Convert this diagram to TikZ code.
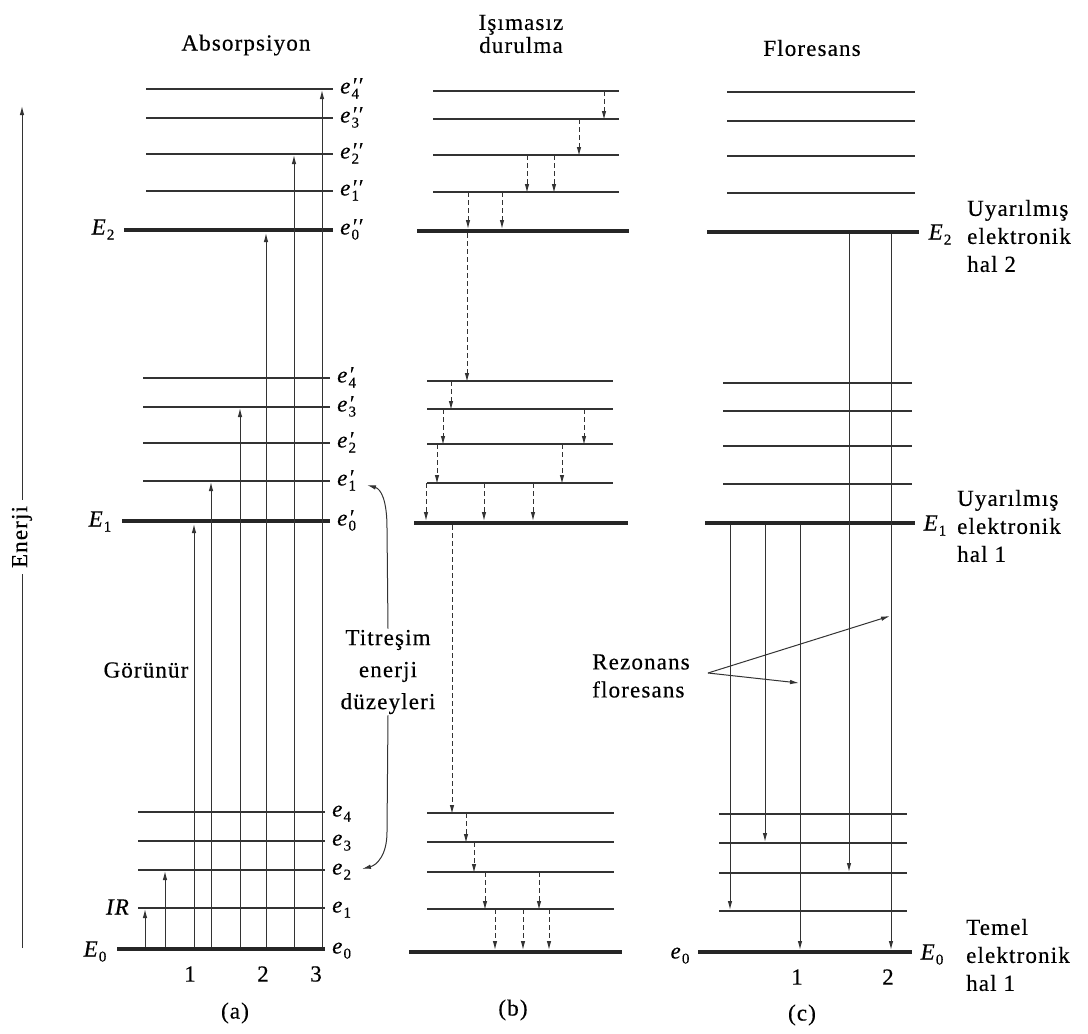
\documentclass[tikz,border=0pt]{standalone}
\usepackage{fontspec}
\setmainfont[LetterSpace=5,FakeBold=0.4]{Liberation Serif}
\usetikzlibrary{arrows.meta}
\newcommand\myfs{\fontsize{23}{28}\selectfont}
% level label: italic letter, optional primes, upright subscript
\newcommand\lvlab[3]{\textit{#1}\rlap{\smash{\raisebox{1pt}{\fontsize{22}{22}\selectfont\textit{#2}}}}\smash{\raisebox{-5pt}{\fontsize{15}{15}\selectfont #3}}}
\begin{document}
\begin{tikzpicture}[x=1pt,y=-1pt,
  lv/.style={line width=1.5pt, draw=black!80},
  gl/.style={line width=4.5pt, draw=black!85},
  ar/.style={line width=1pt, draw=black!80, -{Latex[length=9pt,width=4.5pt]}},
  da/.style={ar, dash pattern=on 5pt off 3pt},
  lab/.style={font=\myfs, inner sep=1pt},
  sl/.style={font=\myfs, inner sep=0pt, text height=11pt, text depth=4pt},
  blk/.style={font=\myfs, align=left, anchor=west, inner sep=1pt}]
\useasboundingbox (0,0) rectangle (1088,1034);

% ---------- titles ----------
\node[lab] (ta) at (246,45) {Absorpsiyon};
\node[lab, align=center, font=\fontsize{23}{23}\selectfont] (tb) at (521,34) {Işımasız\\durulma};
\node[lab] (tc) at (812,48) {Floresans};

% ---------- panel (a) levels ----------
\foreach \y/\l/\r/\p/\s [count=\i] in {89/146/333/{′′}/4,118/146/333/{′′}/3,154/146/333/{′′}/2,191/146/333/{′′}/1,
    378/143/330/{′}/4,407/143/330/{′}/3,443/143/330/{′}/2,481/143/330/{′}/1,
    812/138/325/{}/4,841/138/325/{}/3,870/138/325/{}/2,908/138/325/{}/1}{
  \draw[lv] (\l,\y) -- (\r,\y);
  \node[sl, anchor=west] (la\i) at (\r+7,\y+1) {\lvlab{e}{\p}{\s}};
}
\foreach \y/\l/\r/\p [count=\i] in {230/124/333/{′′},521/122/330/{′},949/117/325/{}}{
  \draw[gl] (\l,\y) -- (\r,\y);
  \node[sl, anchor=west] (lA\i) at (\r+7,\y+1) {\lvlab{e}{\p}{0}};
}
\node[sl] (E2a) at (103,231) {\lvlab{E}{}{2}};
\node[sl] (E1a) at (100,523) {\lvlab{E}{}{1}};
\node[sl] (E0a) at (95,953) {\lvlab{E}{}{0}};
\node[sl] (IRa) at (118,911) {\textit{IR}};

% absorption arrows
\foreach \x/\ya/\yb [count=\i] in {145/947/909,165/947/871,194/947/524,211/947/482,240/947/408,266/947/233,294/947/155,322/947/90}{
  \coordinate (as\i) at (\x,\ya);
  \coordinate (ae\i) at (\x,\yb);
  \draw[ar] (as\i) -- (ae\i);
}
\node[lab] (n1a) at (190,974) {1};
\node[lab] (n2a) at (263,974) {2};
\node[lab] (n3a) at (316,974) {3};
\node[lab] (pa) at (235,1013) {(a)};
\node[lab] (gor) at (146,670) {Görünür};

% vibrational levels label with curved arrows
\node[lab, align=center, font=\fontsize{23}{32}\selectfont] (tit) at (388,672) {Titreşim\\enerji\\düzeyleri};
\coordinate (tv1) at (367,485);
\coordinate (tv2) at (362,869);
\draw[ar] (tit.north) -- (387,528) .. controls (387,500) and (381,489) .. (tv1);
\draw[ar] (tit.south) -- (387,832) .. controls (387,855) and (377,865) .. (tv2);

% energy axis
\node[lab, rotate=90, inner sep=6pt] (en) at (22,537) {Enerji};
\coordinate (enb) at (22,948);
\coordinate (ent) at (22,106);
\draw[line width=1pt, draw=black!80] (enb) -- (en.west);
\draw[ar, line width=1pt] (en.east) -- (ent);

% ---------- panel (b) ----------
\foreach \y/\l/\r in {91/433/619,119/433/619,155/433/619,192/433/619,
    381/427/613,409/427/613,444/427/613,483/427/613,
    813/427/614,842/427/614,872/427/614,909/427/614}{
  \draw[lv] (\l,\y) -- (\r,\y);
}
\draw[gl] (417,231) -- (629,231);
\draw[gl] (414,523) -- (628,523);
\draw[gl] (409,952) -- (622,952);
\foreach \x/\ya/\yb [count=\i] in {604/91/120,579/119/156,527/155/193,554/155/193,468/192/229,502/192/229,
    467/233/382,451/381/410,443/409/445,584/409/445,437/444/484,562/444/484,
    426/483/521,484/483/521,533/483/521,452/525/814,466/813/843,474/842/873,
    485/872/910,539/872/910,495/909/950,523/909/950,549/909/950}{
  \coordinate (bs\i) at (\x,\ya);
  \coordinate (be\i) at (\x,\yb);
  \draw[da] (bs\i) -- (be\i);
}
\node[lab] (pb) at (513,1010) {(b)};

% ---------- panel (c) ----------
\foreach \y/\l/\r in {92/727/915,121/727/915,156/727/915,193/727/915,
    383/723/912,411/723/912,446/723/912,484/723/912,
    814/719/907,843/719/907,873/719/907,911/719/907}{
  \draw[lv] (\l,\y) -- (\r,\y);
}
\draw[gl] (707,232) -- (919,232);
\draw[gl] (705,523) -- (915,523);
\draw[gl] (698,952) -- (912,952);
\foreach \x/\ya/\yb [count=\i] in {730/525/910,765/525/842,800/525/950,849/234/872,891/234/950}{
  \coordinate (cs\i) at (\x,\ya);
  \coordinate (ce\i) at (\x,\yb);
  \draw[ar] (cs\i) -- (ce\i);
}
\node[sl] (E2c) at (940,236) {\lvlab{E}{}{2}};
\node[sl] (E1c) at (935,527) {\lvlab{E}{}{1}};
\node[sl] (E0c) at (932,956) {\lvlab{E}{}{0}};
\node[sl] (e0c) at (680,955) {\lvlab{e}{}{0}};
\node[lab] (n1c) at (797,977) {1};
\node[lab] (n2c) at (888,977) {2};
\node[lab] (pc) at (802,1015) {(c)};

\node[blk] (h2) at (966,236) {Uyarılmış\\elektronik\\hal 2};
\node[blk] (h1) at (956,526) {Uyarılmış\\elektronik\\hal 1};
\node[blk] (h0) at (965,955) {Temel\\elektronik\\hal 1};

% resonance fluorescence
\node[lab, align=left] (rez) at (641,676) {Rezonans\\floresans};
\coordinate (rv) at (708,673);
\coordinate (rt1) at (890,616);
\coordinate (rt2) at (799,683);
\draw[ar] (rv) -- (rt1);
\draw[ar] (rv) -- (rt2);
\end{tikzpicture}
\end{document}
